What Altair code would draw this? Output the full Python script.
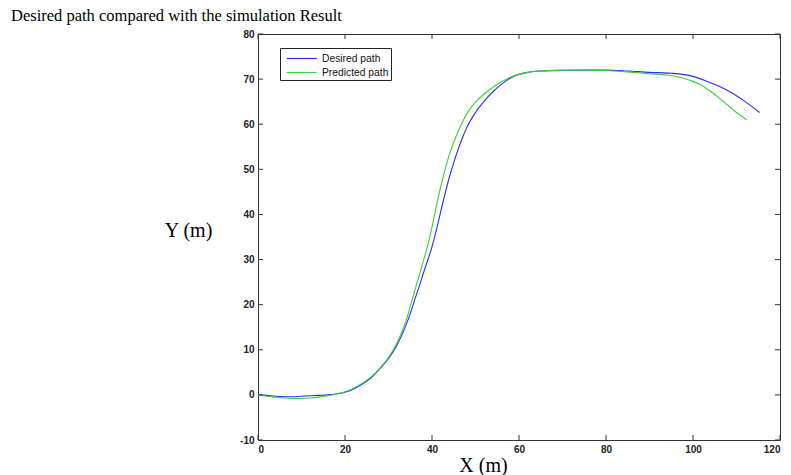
import altair as alt
import pandas as pd

# ---- data ----
desired_x = [0, 2, 4, 6, 8, 10, 12, 14, 16, 18, 20, 22, 24, 26, 28, 30, 32, 34, 35, 36, 37, 38, 39, 40,
             41, 42, 43, 44, 45, 46, 47, 48, 50, 52, 54, 56, 58, 60, 62, 65, 70, 75, 80, 85, 90, 95,
             98, 100, 103, 106, 109, 112, 115.3]
desired_y = [0, -0.1, -0.3, -0.4, -0.4, -0.3, -0.2, -0.1, 0, 0.2, 0.6, 1.3, 2.4, 3.8, 5.8, 8.0, 11.1,
             15.4, 18.0, 21.0, 23.9, 26.9, 29.8, 32.8, 36.5, 40.6, 44.6, 48.3, 51.5, 54.4, 57.0, 59.3,
             62.6, 65.1, 67.2, 68.9, 70.2, 71.0, 71.5, 71.8, 71.95, 72.0, 72.0, 71.8, 71.5, 71.3,
             71.0, 70.6, 69.6, 68.4, 66.9, 65.0, 62.6]

predicted_x = [0, 2, 4, 6, 8, 10, 12, 14, 16, 18, 20, 22, 24, 26, 28, 30, 32, 34, 35, 36, 37, 38, 39,
               40, 41, 42, 43, 44, 45, 46, 47, 48, 50, 52, 54, 56, 58, 60, 62, 65, 70, 75, 80, 85,
               90, 94, 97, 100, 102, 104, 106, 108, 110, 112.3]
predicted_y = [0, -0.3, -0.5, -0.7, -0.8, -0.8, -0.7, -0.5, -0.2, 0.2, 0.7, 1.5, 2.6, 4.0, 5.9, 8.3,
               11.6, 16.3, 19.6, 23.0, 26.3, 29.6, 33.1, 37.2, 41.8, 46.1, 50.0, 53.3, 56.0, 58.4,
               60.5, 62.3, 64.9, 66.7, 68.2, 69.4, 70.4, 71.1, 71.5, 71.8, 71.95, 72.0, 71.9, 71.6,
               71.2, 70.9, 70.4, 69.5, 68.6, 67.3, 65.8, 64.2, 62.6, 61.0]

series_names = ["Desired path", "Predicted path"]
series_colors = ["#2b2bff", "#3acf3a"]

x_ticks = [0, 20, 40, 60, 80, 100, 120]
y_ticks = [-10, 0, 10, 20, 30, 40, 50, 60, 70, 80]

title_text = "Desired path compared with the simulation Result"
x_title = "X (m)"
y_title = "Y (m)"

# ---- build tables ----
rows = []
for i, (xv, yv) in enumerate(zip(desired_x, desired_y)):
    rows.append({"x": xv, "y": yv, "series": series_names[0], "idx": i})
for i, (xv, yv) in enumerate(zip(predicted_x, predicted_y)):
    rows.append({"x": xv, "y": yv, "series": series_names[1], "idx": i})
df = pd.DataFrame(rows)
xt = pd.DataFrame({"t": x_ticks})
yt = pd.DataFrame({"t": y_ticks})

W, H = 522, 406
TICK = 5
xscale = alt.Scale(domain=[0, 120], nice=False, zero=False)
yscale = alt.Scale(domain=[-10, 80], nice=False, zero=False)

lines = alt.Chart(df).mark_line(strokeWidth=1.1, clip=True, interpolate="monotone").encode(
    x=alt.X("x:Q", scale=xscale,
            axis=alt.Axis(values=x_ticks, title=x_title, titleX=225, titleY=25,
                          titleAlign="center", titleBaseline="middle",
                          labelExpr="'' + datum.value")),
    y=alt.Y("y:Q", scale=yscale,
            axis=alt.Axis(values=y_ticks, title=y_title, titleAngle=0, titleX=-70, titleY=196,
                          titleAlign="center", titleBaseline="middle",
                          labelExpr="'' + datum.value")),
    color=alt.Color("series:N",
                    scale=alt.Scale(domain=series_names, range=series_colors),
                    legend=alt.Legend(title=None, orient="none", legendX=22, legendY=14,
                                      symbolType="M-0.5,0H3.5", symbolSize=225,
                                      symbolStrokeWidth=1.2,
                                      labelFont="Liberation Sans", labelFontSize=10.3,
                                      labelColor="#111", strokeColor="#222", fillColor="white",
                                      padding=2, rowPadding=0, labelOffset=23)),
    order="idx:Q",
)

tick_color = "#333"
bx = alt.Chart(xt).mark_rule(color=tick_color).encode(
    x=alt.X("t:Q", scale=xscale, axis=None), y=alt.value(H), y2=alt.value(H - TICK))
tx = alt.Chart(xt).mark_rule(color=tick_color).encode(
    x=alt.X("t:Q", scale=xscale, axis=None), y=alt.value(0), y2=alt.value(TICK))
ly = alt.Chart(yt).mark_rule(color=tick_color).encode(
    y=alt.Y("t:Q", scale=yscale, axis=None), x=alt.value(0), x2=alt.value(TICK))
ry = alt.Chart(yt).mark_rule(color=tick_color).encode(
    y=alt.Y("t:Q", scale=yscale, axis=None), x=alt.value(W), x2=alt.value(W - TICK))

chart = alt.layer(lines, bx, tx, ly, ry).resolve_axis(
    x="independent", y="independent"
).properties(
    width=W, height=H,
    background="white",
    title=alt.TitleParams(title_text, anchor="start", frame="group", dx=-247, dy=2, offset=7,
                          baseline="top", font="Liberation Serif", fontSize=16.5,
                          fontWeight="normal", color="#000"),
    padding={"left": 250, "top": 26, "right": 3, "bottom": 35},
    autosize=alt.AutoSizeParams(type="none"),
).configure_view(
    stroke="#333", strokeWidth=1
).configure_axis(
    grid=False, domain=False, ticks=False,
    labelFont="Liberation Sans", labelFontWeight="bold", labelFontSize=10, labelColor="#222",
    labelPadding=4,
    titleFont="Liberation Serif", titleFontSize=20, titleFontWeight="normal", titleColor="#000",
)

chart.save("out.html", embed_options={"renderer": "svg", "actions": False})
